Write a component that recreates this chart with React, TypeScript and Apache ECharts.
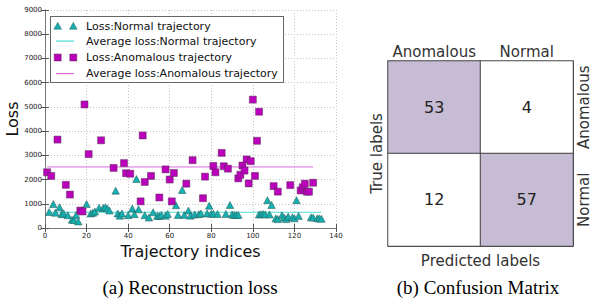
import React, { useEffect, useRef } from "react";
import * as echarts from "echarts";

const normalX = [2, 4, 5, 7, 8, 9, 11, 13, 14, 15, 16, 20, 22, 23, 24, 26, 28, 29, 30, 31, 34, 35, 36, 37, 40, 42, 43, 44, 45, 48, 50, 52, 54, 55, 56, 58, 59, 63, 64, 66, 67, 69, 70, 72, 74, 75, 78, 79, 80, 81, 83, 87, 89, 90, 91, 92, 93, 103, 104, 105, 106, 107, 108, 109, 111, 112, 114, 115, 116, 117, 119, 120, 121, 122, 128, 129, 131, 132, 133];
const normalY = [660, 990, 630, 855, 570, 600, 530, 340, 330, 540, 270, 990, 600, 630, 680, 840, 830, 860, 810, 720, 1540, 600, 510, 600, 530, 810, 570, 2020, 770, 530, 430, 650, 500, 500, 540, 510, 580, 940, 540, 1570, 540, 720, 510, 560, 570, 600, 600, 920, 590, 590, 580, 580, 950, 560, 540, 540, 540, 560, 570, 580, 560, 1150, 560, 950, 400, 370, 530, 430, 370, 470, 440, 400, 1150, 500, 440, 430, 400, 400, 380];

const anomX = [1, 3, 6, 10, 12, 17, 18, 19, 21, 27, 33, 38, 39, 41, 46, 47, 48, 51, 55, 58, 60, 61, 62, 68, 71, 76, 77, 81, 82, 85, 86, 88, 93, 94, 95, 96, 97, 98, 99, 100, 101, 102, 103, 110, 112, 118, 123, 124, 125, 126, 127, 129];
const anomY = [2300, 2150, 3650, 1780, 1380, 720, 680, 5100, 3050, 3620, 2480, 2680, 2260, 2240, 1100, 3820, 1900, 2150, 1260, 2420, 2000, 1100, 2270, 1830, 2800, 1230, 2120, 2560, 2300, 3100, 2550, 2450, 2050, 2200, 2580, 2370, 2830, 1840, 2760, 5300, 2150, 3600, 4800, 1730, 1500, 1770, 1550, 1680, 1830, 1500, 1500, 1870];

const avgNormal = 650;
const avgNormalRange = [1, 133];
const avgAnom = 2520;
const avgAnomRange = [1, 129];

const legendLabels = [
  "Loss:Normal trajectory",
  "Average loss:Normal trajectory",
  "Loss:Anomalous trajectory",
  "Average loss:Anomalous trajectory",
];

const cmCategories = ["Anomalous", "Normal"];
// [predictedIndex, trueIndex, count]
const cmValues = [
  [0, 0, 53],
  [1, 0, 4],
  [0, 1, 12],
  [1, 1, 57],
];

const captions = ["(a) Reconstruction loss", "(b) Confusion Matrix"];

const FONT = "DejaVu Sans";
const TEAL = "#14b0b0";
const MAG = "#bb00bb";
const TEAL_LINE = "#4fdcd4";
const MAG_LINE = "#d86ee0";
const CELL = "#c6bcd4";

export default function App() {
  const ref = useRef<HTMLDivElement>(null);
  useEffect(() => {
    if (!ref.current) return;
    const chart = echarts.init(ref.current, null, { renderer: "svg" });

    const frameLine = { show: true, lineStyle: { color: "#777", width: 1 } };
    const inTick = { show: true, inside: true, length: 4, lineStyle: { color: "#555" } };
    const dotted = { show: true, lineStyle: { color: "#c4c4c4", type: [1, 2], width: 1 } };

    const tri = (cx: number, cy: number) => [
      [cx - 3.8, cy + 3.2],
      [cx + 3.8, cy + 3.2],
      [cx, cy - 3.6],
    ];
    const rowsY = [10, 25, 41.5, 57.5];
    const Z = 100;
    const legendChildren: any[] = [
      { type: "rect", z: Z, shape: { x: 0, y: 0, width: 234, height: 67 }, style: { fill: "#666" } },
      { type: "rect", z: Z + 1, shape: { x: 1, y: 1, width: 232, height: 65 }, style: { fill: "#fff" } },
      { type: "polygon", z: Z + 2, shape: { points: tri(7.7, rowsY[0]) }, style: { fill: TEAL, stroke: "#2c5555", lineWidth: 0.5 } },
      { type: "polygon", z: Z + 2, shape: { points: tri(23.3, rowsY[0]) }, style: { fill: TEAL, stroke: "#2c5555", lineWidth: 0.5 } },
      { type: "rect", z: Z + 2, shape: { x: 6, y: rowsY[1] - 0.5, width: 18, height: 1.2 }, style: { fill: TEAL_LINE } },
      { type: "rect", z: Z + 2, shape: { x: 4.2, y: rowsY[2] - 3.5, width: 7, height: 7 }, style: { fill: MAG, stroke: "#553355", lineWidth: 0.5 } },
      { type: "rect", z: Z + 2, shape: { x: 19.8, y: rowsY[2] - 3.5, width: 7, height: 7 }, style: { fill: MAG, stroke: "#553355", lineWidth: 0.5 } },
      { type: "rect", z: Z + 2, shape: { x: 6, y: rowsY[3] - 0.5, width: 18, height: 1.2 }, style: { fill: MAG_LINE } },
    ];
    legendLabels.forEach((t, i) => {
      legendChildren.push({
        type: "text",
        z: Z + 2,
        x: 36,
        y: rowsY[i],
        style: { text: t, fontSize: 11, fontFamily: FONT, fill: "#111", verticalAlign: "middle", align: "left" },
      });
    });

    const option: any = {
      animation: false,
      backgroundColor: "#fff",
      textStyle: { fontFamily: FONT },
      grid: [
        { left: 45, right: 255, top: 10, bottom: 76 },
        { left: 388, width: 187, top: 61, height: 185 },
      ],
      xAxis: [
        {
          type: "value", gridIndex: 0, position: "bottom", min: 0, max: 140, interval: 20,
          axisLine: frameLine, axisTick: inTick,
          axisLabel: { fontSize: 7, color: "#222", margin: 4, fontFamily: FONT, formatter: (v: number) => String(v) },
          splitLine: dotted,
          name: "Trajectory indices", nameLocation: "middle", nameGap: 10,
          nameTextStyle: { fontSize: 16, color: "#111", fontFamily: FONT },
        },
        {
          type: "value", gridIndex: 0, position: "top", min: 0, max: 140, interval: 20,
          axisLine: frameLine, axisTick: inTick, axisLabel: { show: false }, splitLine: { show: false },
        },
        {
          type: "category", gridIndex: 1, position: "top", data: cmCategories,
          axisLine: { show: true, lineStyle: { color: "#444" } }, axisTick: { show: false },
          axisLabel: { fontSize: 15, color: "#333", margin: 2, interval: 0, fontFamily: FONT },
          splitLine: { show: false },
        },
        {
          type: "category", gridIndex: 1, position: "bottom", data: cmCategories,
          axisLine: { show: true, lineStyle: { color: "#444" } }, axisTick: { show: false },
          axisLabel: { show: false },
          name: "Predicted labels", nameLocation: "middle", nameGap: 7,
          nameTextStyle: { fontSize: 15, color: "#333", fontFamily: FONT },
        },
      ],
      yAxis: [
        {
          type: "value", gridIndex: 0, position: "left", min: 0, max: 9000, interval: 1000,
          axisLine: frameLine, axisTick: inTick,
          axisLabel: { fontSize: 7, color: "#222", margin: 3, fontFamily: FONT, formatter: (v: number) => String(v) },
          splitLine: dotted,
          name: "Loss", nameLocation: "middle", nameGap: 24, nameRotate: 90,
          nameTextStyle: { fontSize: 16, color: "#111", fontFamily: FONT },
        },
        {
          type: "value", gridIndex: 0, position: "right", min: 0, max: 9000, interval: 1000,
          axisLine: frameLine, axisTick: inTick, axisLabel: { show: false }, splitLine: { show: false },
        },
        {
          type: "category", gridIndex: 1, position: "right", data: cmCategories, inverse: true,
          axisLine: { show: true, lineStyle: { color: "#444" } }, axisTick: { show: false },
          axisLabel: { fontSize: 15, color: "#333", margin: 3, rotate: 90, interval: 0, fontFamily: FONT },
          splitLine: { show: false },
        },
        {
          type: "category", gridIndex: 1, position: "left", data: cmCategories, inverse: true,
          axisLine: { show: true, lineStyle: { color: "#444" } }, axisTick: { show: false },
          axisLabel: { show: false },
          name: "True labels", nameLocation: "middle", nameGap: 4, nameRotate: 90,
          nameTextStyle: { fontSize: 15, color: "#333", fontFamily: FONT },
        },
      ],
      visualMap: {
        type: "piecewise", show: false, seriesIndex: 4, dimension: 2,
        pieces: [
          { gte: 30, color: CELL },
          { lt: 30, color: "#ffffff" },
        ],
      },
      series: [
        {
          type: "line", xAxisIndex: 0, yAxisIndex: 0, symbol: "none",
          data: avgNormalRange.map((x) => [x, avgNormal]),
          lineStyle: { color: TEAL_LINE, width: 1 }, z: 2,
        },
        {
          type: "line", xAxisIndex: 0, yAxisIndex: 0, symbol: "none",
          data: avgAnomRange.map((x) => [x, avgAnom]),
          lineStyle: { color: MAG_LINE, width: 1 }, z: 2,
        },
        {
          type: "scatter", xAxisIndex: 0, yAxisIndex: 0, symbol: "triangle", symbolSize: [7.5, 7],
          data: normalX.map((x, i) => [x, normalY[i]]),
          itemStyle: { color: TEAL, borderColor: "#2c5555", borderWidth: 0.5, opacity: 1 }, z: 3,
        },
        {
          type: "scatter", xAxisIndex: 0, yAxisIndex: 0, symbol: "rect", symbolSize: 7,
          data: anomX.map((x, i) => [x, anomY[i]]),
          itemStyle: { color: MAG, borderColor: "#553355", borderWidth: 0.5, opacity: 1 }, z: 4,
        },
        {
          type: "heatmap", xAxisIndex: 2, yAxisIndex: 2,
          data: cmValues,
          itemStyle: { borderColor: "#444", borderWidth: 1 },
          label: { show: true, fontSize: 16, color: "#222", fontFamily: FONT },
        },
      ],
      graphic: [
        { type: "group", left: 50, top: 16, z: Z, children: legendChildren },
        {
          type: "text", x: 190, y: 287, z: Z,
          style: { text: captions[0], fontSize: 19, fontFamily: "Liberation Serif", fill: "#000", align: "center", verticalAlign: "middle" },
        },
        {
          type: "text", x: 478, y: 287, z: Z,
          style: { text: captions[1], fontSize: 19, fontFamily: "Liberation Serif", fill: "#000", align: "center", verticalAlign: "middle" },
        },
      ],
    };
    chart.setOption(option);
    return () => chart.dispose();
  }, []);
  return <div ref={ref} style={{ position: "absolute", left: 0, top: 0, width: 591, height: 304 }} />;
}
